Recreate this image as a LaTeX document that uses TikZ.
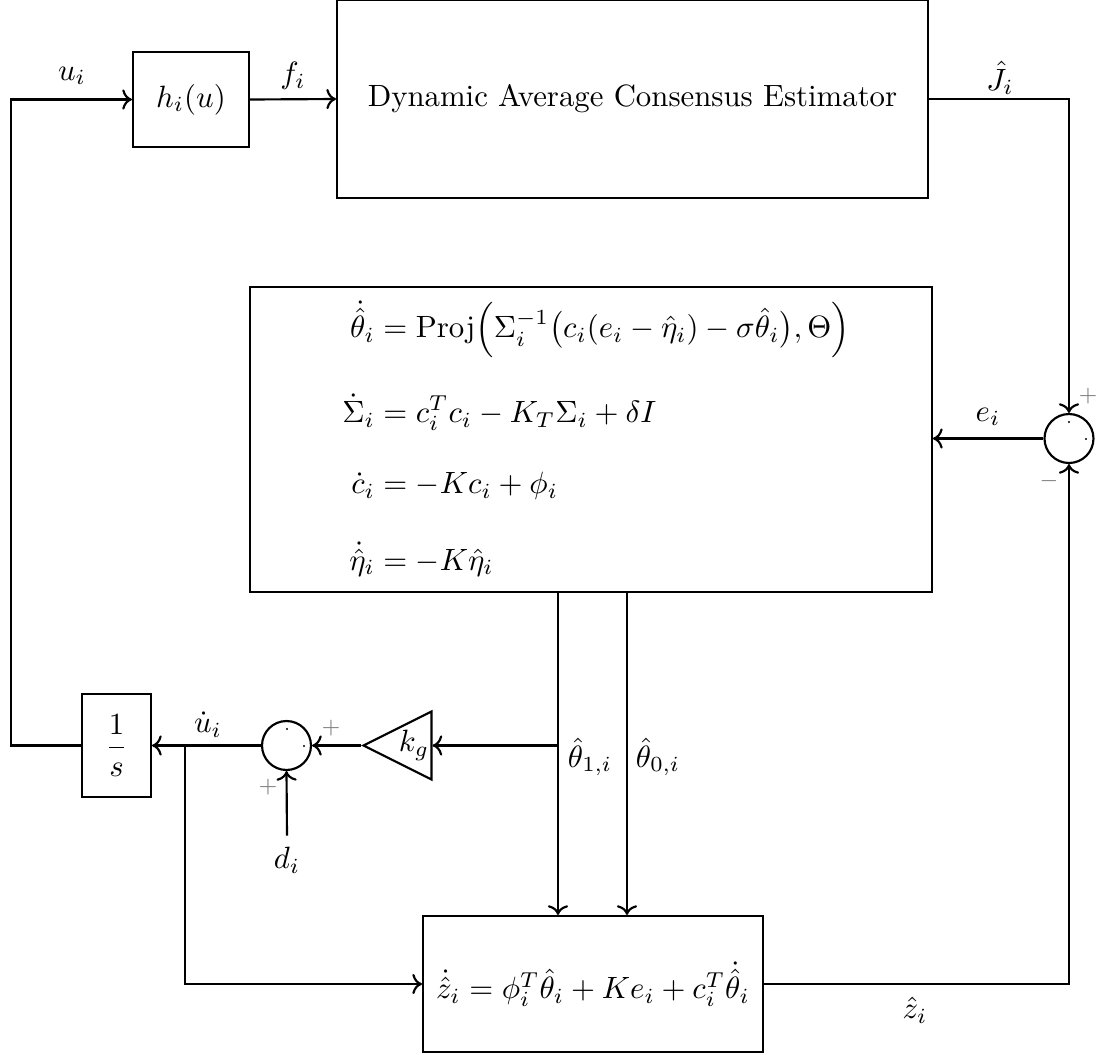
\documentclass[tikz,border=0pt]{standalone}
\usepackage{amsmath}
\usetikzlibrary{arrows.meta,positioning,shapes.geometric,calc}

\begin{document}
\begin{tikzpicture}[x=0.01141cm,y=-0.01141cm,line width=0.7pt,
  blk/.style 2 args={draw,inner sep=2pt,minimum width=#1,minimum height=#2},
  sumc/.style={draw,circle,minimum size=0.559cm,inner sep=0pt},
  gain/.style={draw,isosceles triangle,shape border rotate=180,isosceles triangle stretches,minimum width=0.776cm,minimum height=0.776cm,inner sep=0pt},
  sgn/.style={font=\scriptsize,text=gray}]
  \useasboundingbox (0,0) rectangle (1097,1055);
  \node[blk={1.324cm}{1.084cm}] (hfun) at (191,99.5) {$h_i(u)$};
  \node[blk={6.743cm}{2.259cm}] (dac) at (632.5,99) {Dynamic Average Consensus Estimator};
  \node[blk={7.782cm}{3.48cm}] (est) at (591,439.5) {};
  \node[anchor=west] (eqs) at (331,441) {$\begin{aligned}
    \dot{\hat\theta}_i &= \mathrm{Proj}\Big(\Sigma_i^{-1}\big(c_i(e_i-\hat\eta_i)-\sigma\hat\theta_i\big),\Theta\Big)\\[8pt]
    \dot\Sigma_i &= c_i^Tc_i-K_T\Sigma_i+\delta I\\[8pt]
    \dot c_i &= -Kc_i+\phi_i\\[8pt]
    \dot{\hat\eta}_i &= -K\hat\eta_i
  \end{aligned}$};
  \node[sumc] (sumJ) at (1069,438.5) {};
  \node[blk={0.787cm}{1.175cm}] (integ) at (116.5,745.5) {$\dfrac{1}{s}$};
  \node[sumc] (sumU) at (286.5,745.5) {};
  \node[gain] (kg) at (414,745.5) {$k_g$};
  \node[blk={3.879cm}{1.552cm}] (zhat) at (593,984) {$\dot{\hat z}_i=\phi_i^T\hat\theta_i+Ke_i+c_i^T\dot{\hat\theta}_i$};
  \node (di) at (287,860) {$d_i$};
  \coordinate (ucorner) at (11,99.5);
  \coordinate (branch) at (185,745.5);
  \coordinate (t1) at (558,745.5);
  \coordinate (t0) at (627,745.5);

  \draw[->] (integ.west) -| (ucorner) -- (hfun.west);
  \draw[->] (hfun.east) -- (dac.west);
  \draw[->] (dac.east) -| (sumJ.north);
  \draw[->] (sumJ.west) -- (sumJ.west -| est.east);
  \draw[->] (t1 |- est.south) -- (t1 |- zhat.north);
  \draw[->] (t0 |- est.south) -- (t0 |- zhat.north);
  \draw[->] (t1) -- (kg.lower side);
  \draw[->] (kg.apex) -- (sumU.east);
  \draw[->] (sumU.west) -- (integ.east);
  \draw[->] (di.north) -- (sumU.south);
  \draw[->] (branch) |- (zhat.west);
  \draw[->] (zhat.east) -| (sumJ.south);

  \node (lu) at (72,76) {$u_i$};
  \node (lf) at (293,76) {$f_i$};
  \node (lJ) at (1000,78) {$\hat J_i$};
  \node (le) at (988,417) {$e_i$};
  \node (ludot) at (208,725) {$\dot u_i$};
  \node (lt1) at (590,757) {$\hat\theta_{1,i}$};
  \node (lt0) at (658,757) {$\hat\theta_{0,i}$};
  \node (lz) at (915,1010) {$\hat z_i$};
  \node[sgn] (pJ) at (1088,396) {$+$};
  \node[sgn] (mJ) at (1049,481) {$-$};
  \node[sgn] (pK) at (331,728) {$+$};
  \node[sgn] (pD) at (268,787) {$+$};
  \foreach \p in {(1069,422),(1086,439),(287,729),(304,746)}
    \fill \p circle (0.35pt);
\end{tikzpicture}
\end{document}
